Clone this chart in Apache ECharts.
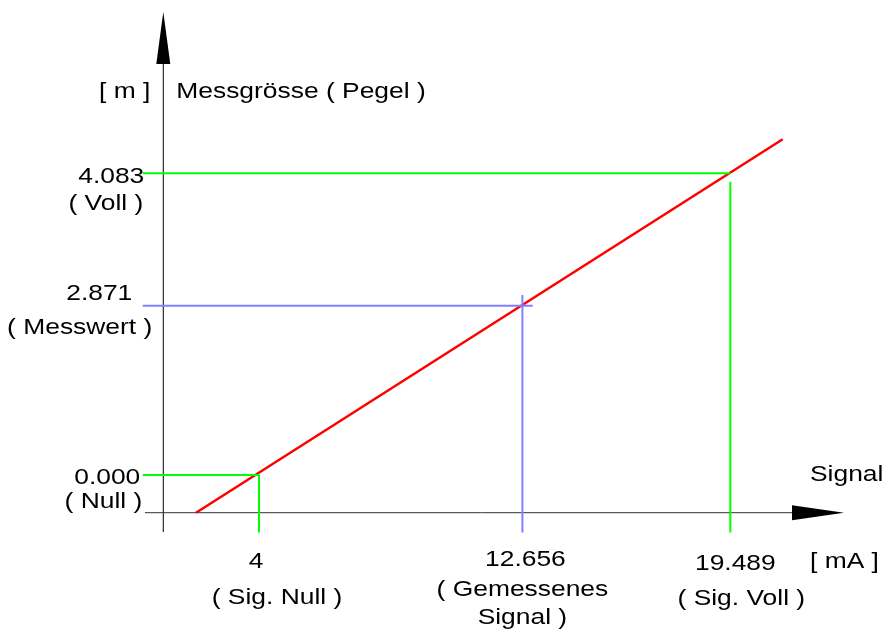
<!DOCTYPE html>
<html><head><meta charset="utf-8">
<script src="https://cdn.jsdelivr.net/npm/echarts@6/dist/echarts.min.js"></script>
<style>html,body{margin:0;padding:0;background:#fff}#c{width:883px;height:629px}</style>
</head><body><div id="c"></div>
<script>
// ---- data ----
const signalTicks  = [4, 12.656, 19.489];                 // mA
const signalLabels = ['4', '12.656', '19.489'];
const signalNotes  = ['( Sig. Null )', '( Gemessenes\nSignal )', '( Sig. Voll )'];
const levelTicks   = [0, 2.29, 4.083];                    // m, where each level is drawn
const levelLabels  = ['0.000', '2.871', '4.083'];
const levelNotes   = ['( Null )', '( Messwert )', '( Voll )'];
const lineX = [1.93, 21.21];                              // red characteristic line
const lineY = [-0.51, 4.543];

// ---- scene geometry in data units ----
const X0 = 0.855, Y0 = -0.51;          // where the axes sit
const yAxisBottom = -0.771, yArrow = 5.914;
const xAxisStart = 0.254, xArrow = 22.37;
const guideLeft = 0.18, guideBottom = -0.778;

const chart = echarts.init(document.getElementById('c'), null, {renderer: 'canvas'});
const seg = (data, color, width, z) => ({type: 'line', data, symbol: 'none', silent: true, z,
  lineStyle: {color, width, cap: 'butt'}});
chart.setOption({
  animation: false,
  grid: {left: 0, right: 0, top: 0, bottom: 0},
  xAxis: {type: 'value', min: -4.511, max: 24.506, show: false},
  yAxis: {type: 'value', min: -2.084, max: 6.428, show: false},
  series: [
    seg([[X0, yAxisBottom], [X0, yArrow]], '#000', 1, 2),
    seg([[xAxisStart, Y0], [xArrow, Y0]], '#333', 1, 2),
    {type: 'scatter', silent: true, z: 5, data: [[X0, yArrow]], symbol: 'triangle', symbolSize: [14, 52], itemStyle: {color: '#000', opacity: 1}},
    {type: 'scatter', silent: true, z: 5, data: [[xArrow, Y0]], symbol: 'triangle', symbolSize: [15, 52], symbolRotate: -90, itemStyle: {color: '#000', opacity: 1}},
    seg(lineX.map((x, i) => [x, lineY[i]]), '#ff0000', 2.5, 3),
    seg([[guideLeft, levelTicks[0]], [signalTicks[0], levelTicks[0]], [signalTicks[0], guideBottom]], '#00ff00', 2, 4),
    seg([[guideLeft, levelTicks[2]], [signalTicks[2], levelTicks[2]]], '#00ff00', 2, 4),
    seg([[signalTicks[2], 3.969], [signalTicks[2], guideBottom]], '#00ff00', 2, 4),
    seg([[guideLeft, levelTicks[1]], [12.995, levelTicks[1]]], '#8080ff', 2, 4),
    seg([[signalTicks[1], 2.436], [signalTicks[1], guideBottom]], '#8080ff', 2, 4)
  ]
});

// ---- text (placed from the library's scales) ----
const px = (x, y) => chart.convertToPixel({gridIndex: 0}, [x, y]);
const VA = 2.5; // glyph-centre correction for 'middle'
const T = (text, x, y, align) => ({type: 'text', x, y: y + VA, scaleX: 1.2, z: 10,
  style: {text, fill: '#000', font: '22px "Liberation Sans", Arial, sans-serif', align, verticalAlign: 'middle', lineHeight: 28}});
const g = [];
const axisO = px(X0, Y0);
const numDx = [-3, 3, 5], numDy = [47, 45, 49], noteDx = [18, 0, 11], noteDy = [83, 89, 84];
signalTicks.forEach((v, i) => {
  const p = px(v, Y0);
  g.push(T(signalLabels[i], p[0] + numDx[i], axisO[1] + numDy[i], 'center'));
  g.push(T(signalNotes[i], p[0] + noteDx[i], axisO[1] + noteDy[i], 'center'));
});
const lvlDx = [-23, -31, -19], lvlDy = [0, -14, 1.5], lnDx = [-21, -11, -20], lnDy = [24, 20, 28];
levelTicks.forEach((v, i) => {
  const p = px(X0, v);
  g.push(T(levelLabels[i], axisO[0] + lvlDx[i], p[1] + lvlDy[i], 'right'));
  g.push(T(levelNotes[i], axisO[0] + lnDx[i], p[1] + lnDy[i], 'right'));
});
g.push(T('[ m ]', axisO[0] - 13, 89, 'right'));
g.push(T('Messgrösse ( Pegel )', axisO[0] + 13, 89, 'left'));
g.push(T('Signal', 810, axisO[1] - 40, 'left'));
g.push(T('[ mA ]', 810, axisO[1] + 47, 'left'));
chart.setOption({graphic: g});
</script></body></html>
